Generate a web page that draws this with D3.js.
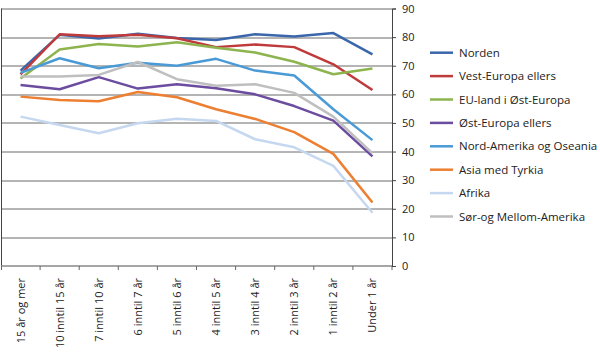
<!DOCTYPE html>
<html>
<head>
<meta charset="utf-8">
<script src="https://cdn.jsdelivr.net/npm/d3@7"></script>
<style>
  body { margin: 0; background: #fff; }
  text { font-family: "Open Sans", sans-serif; fill: #222; }
</style>
</head>
<body>
<div id="container"></div>
<script>
// categories on the x axis (time since immigration)
var categories = ["15 år og mer", "10 inntil 15 år", "7 inntil 10 år", "6 inntil 7 år", "5 inntil 6 år",
    "4 inntil 5 år", "3 inntil 4 år", "2 inntil 3 år", "1 inntil 2 år", "Under 1 år"];

var seriesNames = ["Norden", "Vest-Europa ellers", "EU-land i Øst-Europa", "Øst-Europa ellers",
    "Nord-Amerika og Oseania", "Asia med Tyrkia", "Afrika", "Sør-og Mellom-Amerika"];

var norden      = [68.3, 80.8, 79.5, 81.2, 79.7, 79.0, 81.0, 80.2, 81.4, 74.0];
var vestEuropa  = [67.0, 81.0, 80.3, 80.8, 79.6, 76.5, 77.4, 76.5, 70.5, 61.5];
var euOst       = [65.5, 75.7, 77.6, 76.7, 78.2, 76.3, 74.6, 71.4, 67.0, 69.0];
var ostEuropa   = [63.3, 61.8, 66.0, 62.0, 63.5, 62.1, 60.0, 55.9, 50.8, 38.3];
var nordAmerika = [67.5, 72.6, 69.1, 71.0, 70.0, 72.4, 68.3, 66.6, 54.8, 44.0];
var asia        = [59.2, 58.0, 57.6, 60.8, 59.0, 54.8, 51.4, 46.8, 39.2, 22.2];
var afrika      = [52.2, 49.3, 46.4, 49.9, 51.5, 50.7, 44.3, 41.5, 35.0, 18.6];
var sorAmerika  = [66.2, 66.2, 66.8, 71.3, 65.3, 63.0, 63.5, 60.5, 52.2, 39.4];

var yTicks = [0, 10, 20, 30, 40, 50, 60, 70, 80, 90];

var colors = ["#3a67ab", "#be3a3b", "#8db44f", "#6b4c9f", "#4a9ad6", "#ec7f32", "#c5d8f0", "#bfbfbf"];
var allValues = [norden, vestEuropa, euOst, ostEuropa, nordAmerika, asia, afrika, sorAmerika];

const margin = { top: 8.5, right: 208, bottom: 87, left: 1 },
    width = 600 - margin.left - margin.right,
    height = 353 - margin.top - margin.bottom;

var svg = d3.select("#container")
    .append("svg")
    .attr("width", 600)
    .attr("height", 353)
    .append("g")
    .attr("transform", "translate(" + margin.left + "," + margin.top + ")");

var x = d3.scaleBand()
    .domain(categories)
    .range([0, width]);

var y = d3.scaleLinear()
    .domain([0, 90])
    .range([height, 0]);

// gridlines
svg.selectAll(".grid")
    .data(yTicks.slice(1))
    .enter()
    .append("line")
    .attr("x1", 0)
    .attr("x2", width)
    .attr("y1", function (d) { return Math.round(y(d)) + 0.5 })
    .attr("y2", function (d) { return Math.round(y(d)) + 0.5 })
    .attr("stroke", "#6a6a6a")
    .attr("stroke-width", 1);

// left border
svg.append("line")
    .attr("x1", 0.5).attr("x2", 0.5)
    .attr("y1", y(90)).attr("y2", height)
    .attr("stroke", "#444");

// x axis with ticks at category boundaries
var xAxis = svg.append("g")
    .attr("transform", "translate(0," + height + ")");

xAxis.append("line")
    .attr("x1", 0).attr("x2", width)
    .attr("y1", 0).attr("y2", 0)
    .attr("stroke", "#888").attr("stroke-width", 1.5);

xAxis.selectAll(".xtick")
    .data(categories)
    .enter()
    .append("line")
    .attr("x1", function (d) { return x(d) + x.bandwidth() })
    .attr("x2", function (d) { return x(d) + x.bandwidth() })
    .attr("y1", 0).attr("y2", 4)
    .attr("stroke", "#666");

xAxis.append("line")
    .attr("x1", 0.5).attr("x2", 0.5)
    .attr("y1", 0).attr("y2", 4)
    .attr("stroke", "#666");

xAxis.selectAll(".xlabel")
    .data(categories)
    .enter()
    .append("text")
    .attr("transform", function (d) {
        return "translate(" + (x(d) + x.bandwidth() / 2 + 4) + ",12) rotate(-90)";
    })
    .attr("text-anchor", "end")
    .style("font-size", "11px")
    .text(function (d) { return d });

// y axis on the right
var yAxis = svg.append("g")
    .attr("transform", "translate(" + width + ",0)")
    .call(d3.axisRight(y).tickValues(yTicks).tickSize(4).tickPadding(6));

yAxis.select(".domain").attr("stroke", "#444");
yAxis.selectAll(".tick line").attr("stroke", "#444");
yAxis.selectAll(".tick text")
    .style("font-size", "11px")
    .style("font-family", "'Open Sans', sans-serif")
    .attr("fill", "#222");

// lines
var line = d3.line()
    .x(function (d, i) { return x(categories[i]) + x.bandwidth() / 2 })
    .y(function (d) { return y(d) });

allValues.forEach(function (values, i) {
    svg.append("path")
        .datum(values)
        .attr("fill", "none")
        .attr("stroke", colors[i])
        .attr("stroke-width", 2.5)
        .attr("stroke-linejoin", "round")
        .attr("d", line);
});

// legend
var legend = svg.append("g")
    .attr("transform", "translate(" + (430 - margin.left) + "," + (52.7 - margin.top) + ")");

seriesNames.forEach(function (name, i) {
    var g = legend.append("g").attr("transform", "translate(0," + (i * 23.4) + ")");
    g.append("line")
        .attr("x1", 0).attr("x2", 23)
        .attr("y1", 0).attr("y2", 0)
        .attr("stroke", colors[i])
        .attr("stroke-width", 2.5);
    g.append("text")
        .attr("x", 29)
        .attr("y", 4)
        .style("font-size", "11.5px")
        .text(name);
});
</script>
</body>
</html>
